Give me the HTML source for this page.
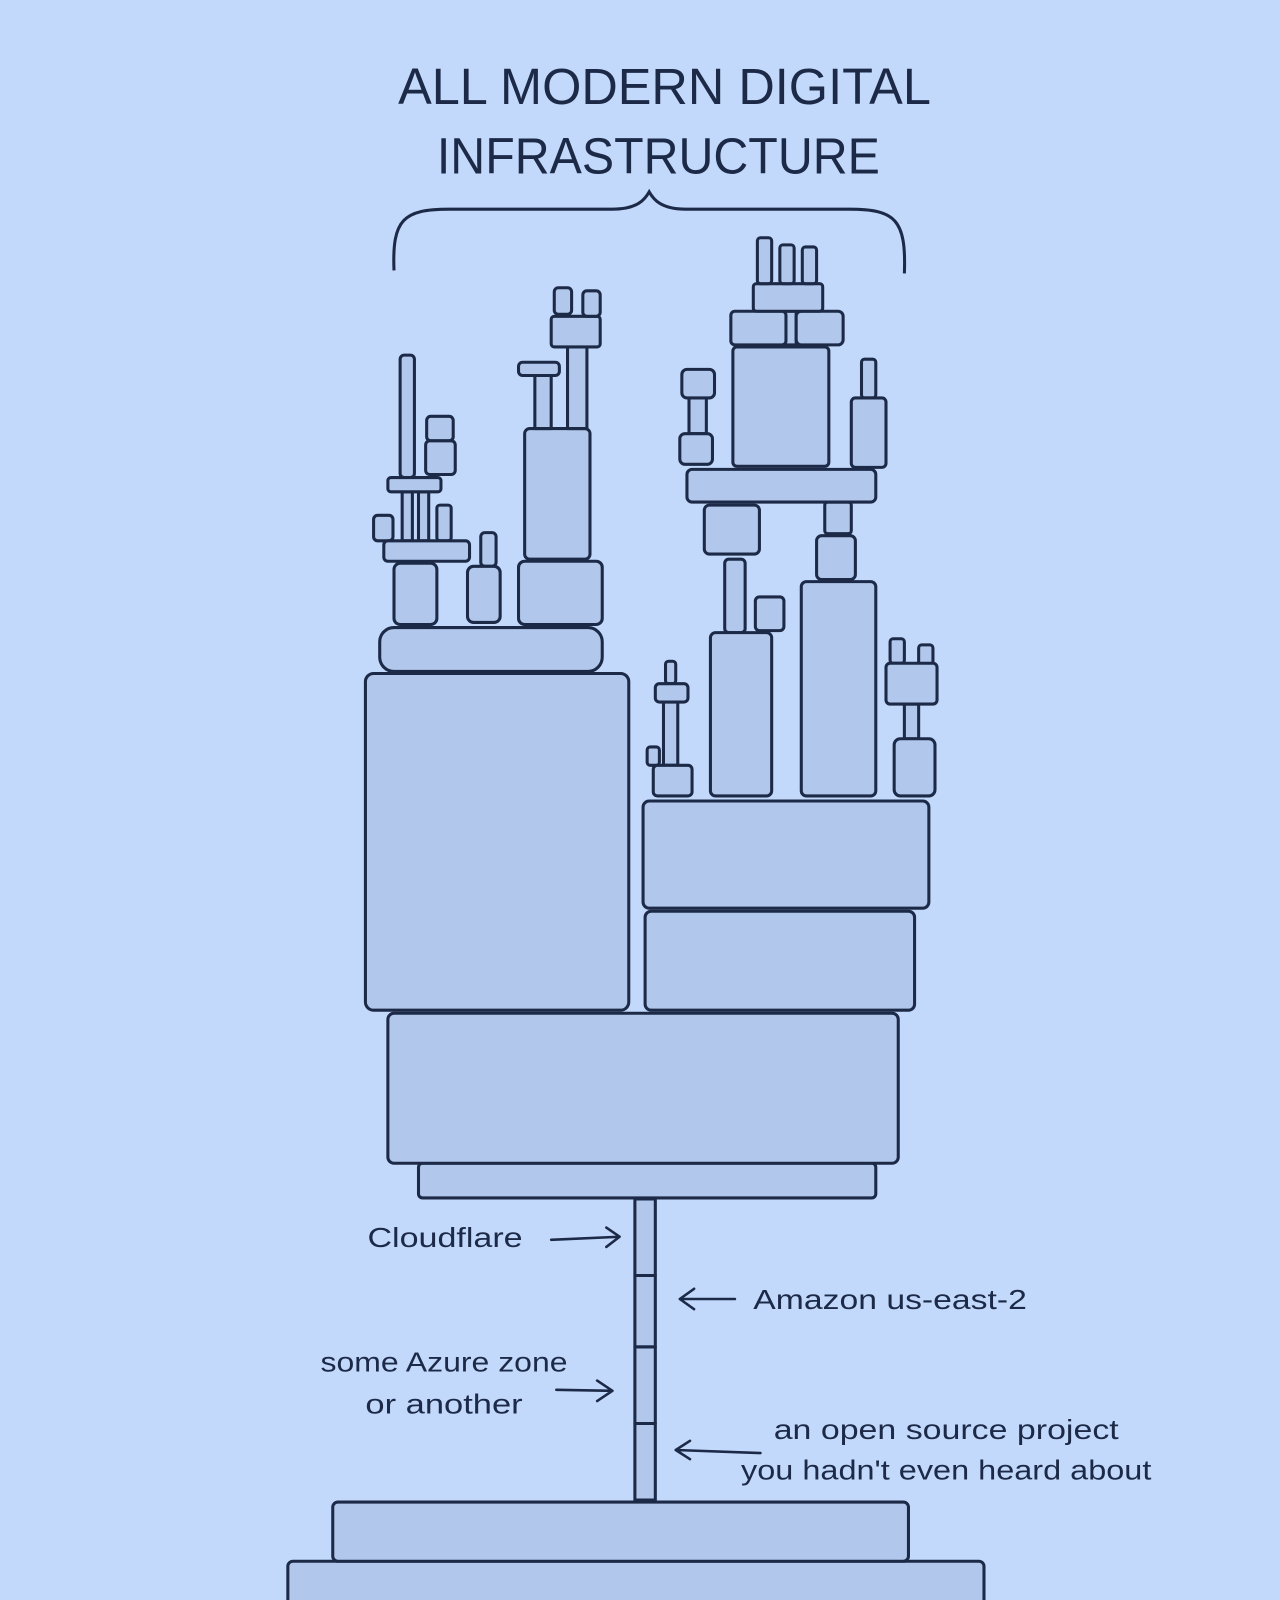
<!DOCTYPE html>
<html><head><meta charset="utf-8"><style>
html,body{margin:0;padding:0;background:#c3d9fb;}
svg{display:block;}
</style></head><body>
<svg width="1280" height="1600" viewBox="0 0 1254 1568" preserveAspectRatio="none" xmlns="http://www.w3.org/2000/svg">
<rect x="0" y="0" width="1254" height="1568" fill="#c3d9fb"/>
<g font-family="Liberation Sans, sans-serif" fill="#1c2a48">
<text x="390" y="102" font-size="50" textLength="522" lengthAdjust="spacingAndGlyphs">ALL MODERN DIGITAL</text>
<text x="428" y="170" font-size="50" textLength="434" lengthAdjust="spacingAndGlyphs">INFRASTRUCTURE</text>
</g>
<path d="M386,265 C384,215 395,205 440,205 L600,205 C625,205 632,195 636,188 C640,195 647,205 672,205 L832,205 C877,205 888,215 886,268" fill="none" stroke="#1c2a48" stroke-width="3"/>
<g fill="#b1c8ec" stroke="#1c2a48" stroke-width="3" stroke-linejoin="round">
<!-- bottom -->
<rect x="282" y="1530" width="682" height="60" rx="5"/>
<rect x="326" y="1472" width="564" height="58" rx="5"/>
<rect x="622" y="1175" width="20" height="75"/>
<rect x="622" y="1250" width="20" height="70"/>
<rect x="622" y="1320" width="20" height="75"/>
<rect x="622" y="1395" width="20" height="75"/>
<rect x="410" y="1140" width="448" height="34" rx="4"/>
<rect x="380" y="993" width="500" height="147" rx="6"/>
<rect x="358" y="660" width="258" height="330" rx="8"/>
<rect x="632" y="893" width="264" height="97" rx="6"/>
<rect x="630" y="785" width="280" height="105" rx="6"/>
<!-- left tower -->
<rect x="372" y="615" width="218" height="43" rx="14"/>
<rect x="386" y="552" width="42" height="60" rx="6"/>
<rect x="471" y="522" width="15" height="33" rx="4"/>
<rect x="458" y="555" width="32" height="55" rx="6"/>
<rect x="508" y="550" width="82" height="62" rx="6"/>
<rect x="514" y="420" width="64" height="128" rx="5"/>
<rect x="524" y="366" width="16" height="54"/>
<rect x="508" y="355" width="40" height="13" rx="4"/>
<rect x="556" y="340" width="19" height="80"/>
<rect x="540" y="310" width="48" height="30" rx="3"/>
<rect x="543" y="282" width="17" height="26" rx="4"/>
<rect x="571" y="285" width="17" height="25" rx="4"/>
<rect x="394" y="482" width="10" height="48"/>
<rect x="410" y="482" width="10" height="48"/>
<rect x="366" y="505" width="19" height="25" rx="4"/>
<rect x="428" y="495" width="14" height="35" rx="3"/>
<rect x="376" y="530" width="84" height="20" rx="4"/>
<rect x="392" y="348" width="14" height="120" rx="4"/>
<rect x="380" y="468" width="52" height="14" rx="3"/>
<rect x="418" y="408" width="26" height="24" rx="4"/>
<rect x="417" y="432" width="29" height="33" rx="4"/>
<!-- right tower -->
<rect x="785" y="570" width="73" height="210" rx="5"/>
<rect x="800" y="525" width="38" height="43" rx="5"/>
<rect x="808" y="492" width="26" height="31" rx="3"/>
<rect x="710" y="548" width="20" height="72" rx="4"/>
<rect x="696" y="620" width="60" height="160" rx="5"/>
<rect x="740" y="585" width="28" height="33" rx="4"/>
<rect x="690" y="495" width="54" height="48" rx="5"/>
<rect x="673" y="460" width="185" height="32" rx="5"/>
<rect x="718" y="340" width="94" height="117" rx="4"/>
<rect x="764" y="305" width="16" height="33"/>
<rect x="716" y="305" width="54" height="33" rx="4"/>
<rect x="780" y="305" width="46" height="33" rx="5"/>
<rect x="738" y="278" width="68" height="27" rx="3"/>
<rect x="742" y="233" width="14" height="45" rx="3"/>
<rect x="764" y="240" width="14" height="38" rx="3"/>
<rect x="786" y="242" width="14" height="36" rx="3"/>
<rect x="675" y="390" width="17" height="35"/>
<rect x="668" y="362" width="32" height="28" rx="5"/>
<rect x="666" y="425" width="32" height="30" rx="5"/>
<rect x="844" y="352" width="14" height="38" rx="3"/>
<rect x="834" y="390" width="34" height="68" rx="4"/>
<rect x="652" y="648" width="10" height="22" rx="3"/>
<rect x="650" y="686" width="14" height="64"/>
<rect x="642" y="670" width="32" height="18" rx="4"/>
<rect x="634" y="732" width="12" height="18" rx="3"/>
<rect x="640" y="750" width="38" height="30" rx="4"/>
<rect x="886" y="690" width="14" height="34"/>
<rect x="872" y="626" width="14" height="24" rx="3"/>
<rect x="900" y="632" width="14" height="22" rx="3"/>
<rect x="868" y="650" width="50" height="40" rx="4"/>
<rect x="876" y="724" width="40" height="56" rx="6"/>
</g>
<g fill="none" stroke="#1c2a48" stroke-width="2.5" stroke-linecap="round" stroke-linejoin="round">
<path d="M540,1215 L607,1212 M594,1203 L607,1212 L594,1222"/>
<path d="M720,1273 L666,1273 M680,1263 L666,1273 L680,1283"/>
<path d="M545,1362 L600,1363 M585,1353 L600,1363 L585,1373"/>
<path d="M745,1424 L662,1421 M676,1412 L662,1421 L676,1430"/>
</g>
<g font-family="Liberation Sans, sans-serif" fill="#1c2a48" font-size="27">
<text x="360" y="1222" textLength="152" lengthAdjust="spacingAndGlyphs">Cloudflare</text>
<text x="738" y="1283" textLength="268" lengthAdjust="spacingAndGlyphs">Amazon us-east-2</text>
<text x="314" y="1344" textLength="242" lengthAdjust="spacingAndGlyphs">some Azure zone</text>
<text x="358" y="1385" textLength="154" lengthAdjust="spacingAndGlyphs">or another</text>
<text x="758" y="1410" textLength="338" lengthAdjust="spacingAndGlyphs">an open source project</text>
<text x="726" y="1450" textLength="402" lengthAdjust="spacingAndGlyphs">you hadn't even heard about</text>
</g>
</svg>
</body></html>
